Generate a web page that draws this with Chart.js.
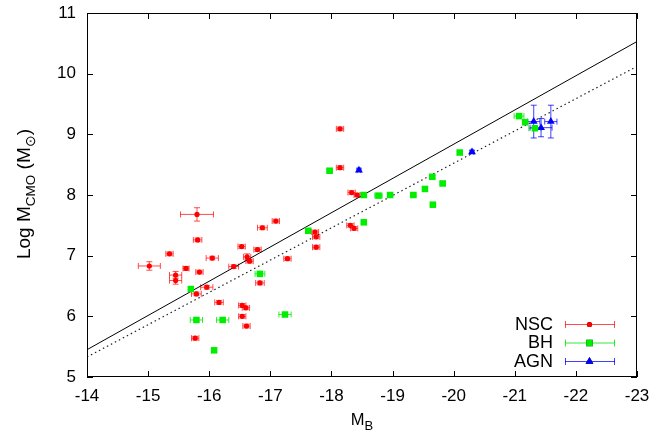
<!DOCTYPE html>
<html>
<head>
<meta charset="utf-8">
<script src="https://cdn.jsdelivr.net/npm/chart.js@4"></script>
<style>
  html, body { margin: 0; padding: 0; background: #fff; }
</style>
</head>
<body>
<canvas id="myChart" width="671" height="435"></canvas>
<script>
// NSC points
var nscX = [-18.14, -18.14, -18.33, -18.42, -15.80, -17.09, -16.87, -15.81, -16.53, -16.79, -15.35, -15.02, -16.05, -16.62, -16.66, -17.28, -16.40, -15.62, -15.84, -15.45, -15.45, -15.96, -15.79, -16.83, -16.16, -16.54, -16.60, -16.54, -16.61, -15.77, -17.73, -17.75, -17.75, -18.31, -18.37];
var nscY = [9.09, 8.45, 8.04, 8.00, 7.68, 7.57, 7.46, 7.26, 7.15, 7.10, 7.03, 6.83, 6.96, 6.98, 6.91, 6.95, 6.82, 6.79, 6.73, 6.68, 6.59, 6.48, 6.37, 6.55, 6.23, 6.18, 6.14, 6.00, 5.84, 5.64, 7.39, 7.31, 7.14, 7.50, 7.45];
var nscXerr = [0.06, 0.06, 0.06, 0.05, 0.27, 0.06, 0.08, 0.07, 0.06, 0.06, 0.06, 0.18, 0.10, 0.06, 0.06, 0.06, 0.08, 0.05, 0.06, 0.10, 0.10, 0.10, 0.08, 0.07, 0.07, 0.06, 0.06, 0.06, 0.06, 0.06, 0.06, 0.06, 0.06, 0.06, 0.06];
var nscYerr = [0.03, 0.03, 0.03, 0.03, 0.11, 0.03, 0.03, 0.03, 0.03, 0.03, 0.03, 0.07, 0.03, 0.05, 0.03, 0.03, 0.03, 0.03, 0.03, 0.06, 0.06, 0.03, 0.03, 0.03, 0.03, 0.03, 0.03, 0.03, 0.03, 0.03, 0.03, 0.03, 0.03, 0.03, 0.03];

// BH points
var bhX = [-21.07, -21.17, -21.33, -20.10, -17.97, -19.65, -19.82, -19.53, -18.53, -18.77, -18.96, -19.34, -19.66, -18.53, -17.62, -16.83, -15.70, -17.24, -15.79, -16.22, -16.08];
var bhY = [9.30, 9.20, 9.10, 8.70, 8.40, 8.30, 8.19, 8.10, 8.00, 7.99, 8.00, 8.00, 7.84, 7.55, 7.41, 6.70, 6.45, 6.03, 5.94, 5.94, 5.44];
var bhXerr = [0.08, 0.04, 0.10, 0.04, 0.04, 0.04, 0.04, 0.04, 0.04, 0.06, 0.04, 0.04, 0.04, 0.04, 0.04, 0.08, 0.04, 0.10, 0.10, 0.10, 0.04];
var bhYerr = [0.02, 0.02, 0.02, 0.02, 0.02, 0.02, 0.02, 0.02, 0.02, 0.02, 0.02, 0.02, 0.02, 0.02, 0.02, 0.02, 0.02, 0.02, 0.02, 0.02, 0.02];

// AGN points
var agnX = [-21.31, -21.43, -21.59, -20.30, -18.45];
var agnY = [9.21, 9.11, 9.21, 8.71, 8.41];
var agnXerr = [0.10, 0.18, 0.10, 0.03, 0.03];
var agnYerr = [0.27, 0.15, 0.27, 0.02, 0.02];

// fit lines
var lineX = [-14, -23];
var solidY = [5.45, 10.53];
var dottedY = [5.33, 10.12];

var legendNames = ["NSC", "BH", "AGN"];

function toPoints(xs, ys) {
    var pts = [];
    for (var i = 0; i < xs.length; i++) {
        pts.push({x: xs[i], y: ys[i]});
    }
    return pts;
}

var FONT = '"Liberation Sans", Arial, sans-serif';

// error bars with caps, drawn under the markers
var errorBars = {
    id: 'errorBars',
    beforeDatasetsDraw: function (chart) {
        var ctx = chart.ctx;
        var xs = chart.scales.x, ys = chart.scales.y;
        ctx.save();
        chart.data.datasets.forEach(function (ds) {
            if (!ds.xerr) return;
            ctx.strokeStyle = ds.barColor;
            ctx.lineWidth = 1;
            ds.data.forEach(function (p, i) {
                var px = xs.getPixelForValue(p.x), py = ys.getPixelForValue(p.y);
                var x1 = xs.getPixelForValue(p.x - ds.xerr[i]);
                var x2 = xs.getPixelForValue(p.x + ds.xerr[i]);
                var y1 = ys.getPixelForValue(p.y - ds.yerr[i]);
                var y2 = ys.getPixelForValue(p.y + ds.yerr[i]);
                var c = 3;
                ctx.beginPath();
                ctx.moveTo(x1, py); ctx.lineTo(x2, py);
                ctx.moveTo(x1, py - c); ctx.lineTo(x1, py + c);
                ctx.moveTo(x2, py - c); ctx.lineTo(x2, py + c);
                ctx.moveTo(px, y1); ctx.lineTo(px, y2);
                ctx.moveTo(px - c, y1); ctx.lineTo(px + c, y1);
                ctx.moveTo(px - c, y2); ctx.lineTo(px + c, y2);
                ctx.stroke();
            });
        });
        ctx.restore();
    }
};

// frame, inward ticks on four sides, axis titles and legend
var frame = {
    id: 'frame',
    afterDraw: function (chart) {
        var ctx = chart.ctx;
        var a = chart.chartArea;
        var xs = chart.scales.x, ys = chart.scales.y;
        ctx.save();
        ctx.strokeStyle = '#000';
        ctx.lineWidth = 1;
        ctx.strokeRect(a.left + 0.5, a.top + 0.5, a.right - a.left - 1, a.bottom - a.top - 1);
        var t = 6;
        ctx.beginPath();
        xs.ticks.forEach(function (tk) {
            var px = Math.round(xs.getPixelForValue(tk.value)) + 0.5;
            ctx.moveTo(px, a.bottom); ctx.lineTo(px, a.bottom - t);
            ctx.moveTo(px, a.top); ctx.lineTo(px, a.top + t);
        });
        ys.ticks.forEach(function (tk) {
            var py = Math.round(ys.getPixelForValue(tk.value)) + 0.5;
            ctx.moveTo(a.left, py); ctx.lineTo(a.left + t, py);
            ctx.moveTo(a.right, py); ctx.lineTo(a.right - t, py);
        });
        ctx.stroke();

        // x title: M_B
        ctx.fillStyle = '#000';
        ctx.textBaseline = 'alphabetic';
        var cx = (a.left + a.right) / 2;
        ctx.font = '16.5px ' + FONT;
        var wM = ctx.measureText('M').width;
        ctx.font = '13px ' + FONT;
        var wB = ctx.measureText('B').width;
        var sx = cx - (wM + wB) / 2;
        ctx.font = '16.5px ' + FONT;
        ctx.textAlign = 'left';
        ctx.fillText('M', sx, 425);
        ctx.font = '13px ' + FONT;
        ctx.fillText('B', sx + wM, 430);

        // y title: Log M_CMO (M_sun)
        var parts = [
            ['Log M', 19, 0], ['CMO', 13.5, 5], [' (M', 19, 0], ['\u2299', 13.5, 5], [')', 19, 0]
        ];
        var total = 0;
        parts.forEach(function (p) {
            ctx.font = p[1] + 'px ' + FONT;
            total += ctx.measureText(p[0]).width;
        });
        ctx.translate(29.5, 194);
        ctx.rotate(-Math.PI / 2);
        var ox = -total / 2;
        parts.forEach(function (p) {
            ctx.font = p[1] + 'px ' + FONT;
            ctx.fillText(p[0], ox, p[2]);
            ox += ctx.measureText(p[0]).width;
        });
        ctx.setTransform(1, 0, 0, 1, 0, 0);

        // legend
        ctx.font = '18px ' + FONT;
        ctx.textAlign = 'right';
        ctx.textBaseline = 'middle';
        for (var i = 0; i < 3; i++) {
            var ds = chart.data.datasets[i];
            var ly = 324 + i * 18.5;
            ctx.fillStyle = '#000';
            ctx.fillText(legendNames[i], 553, ly + 1);
            ctx.strokeStyle = ds.barColor;
            ctx.lineWidth = 1;
            ctx.beginPath();
            ctx.moveTo(565, ly + 0.5); ctx.lineTo(615, ly + 0.5);
            ctx.moveTo(565.5, ly - 3); ctx.lineTo(565.5, ly + 4);
            ctx.moveTo(614.5, ly - 3); ctx.lineTo(614.5, ly + 4);
            ctx.stroke();
            Chart.helpers.drawPoint(ctx, {
                pointStyle: ds.pointStyle, radius: ds.pointRadius, rotation: 0, borderWidth: 0
            }, 589.5, ly + 0.5);
            ctx.fillStyle = ds.backgroundColor;
            ctx.fill();
        }
        ctx.restore();
    }
};

var ctx = document.getElementById('myChart').getContext('2d');
var myChart = new Chart(ctx, {
    type: 'scatter',
    data: {
        datasets: [{
            label: 'NSC',
            data: toPoints(nscX, nscY),
            xerr: nscXerr, yerr: nscYerr,
            barColor: 'rgba(255,0,0,0.7)',
            backgroundColor: '#ff0000',
            borderWidth: 0,
            pointStyle: 'circle',
            pointRadius: 2.6
        }, {
            label: 'BH',
            data: toPoints(bhX, bhY),
            xerr: bhXerr, yerr: bhYerr,
            barColor: 'rgba(0,230,0,0.8)',
            backgroundColor: '#00ee00',
            borderWidth: 0,
            pointStyle: 'rect',
            pointRadius: 4.6
        }, {
            label: 'AGN',
            data: toPoints(agnX, agnY),
            xerr: agnXerr, yerr: agnYerr,
            barColor: 'rgba(0,0,255,0.75)',
            backgroundColor: '#0000ff',
            borderWidth: 0,
            pointStyle: 'triangle',
            pointRadius: 4.5
        }, {
            type: 'line',
            label: 'fit',
            data: toPoints(lineX, solidY),
            borderColor: '#000',
            borderWidth: 1,
            pointRadius: 0,
            fill: false
        }, {
            type: 'line',
            label: 'fit2',
            data: toPoints(lineX, dottedY),
            borderColor: '#222',
            borderWidth: 1.2,
            borderDash: [1.5, 3],
            pointRadius: 0,
            fill: false
        }]
    },
    options: {
        responsive: false,
        animation: false,
        devicePixelRatio: 1,
        layout: { padding: { left: 0, right: 34, top: 13, bottom: 0 } },
        plugins: {
            legend: { display: false },
            tooltip: { enabled: false }
        },
        scales: {
            x: {
                type: 'linear',
                min: -23, max: -14,
                reverse: true,
                grid: { display: false, drawTicks: false },
                border: { display: false },
                ticks: { stepSize: 1, padding: 9, maxRotation: 0, color: '#000', font: { family: FONT, size: 17 } },
                afterFit: function (scale) {
                    scale.height = 58;
                    scale.paddingLeft = 0;
                    scale.paddingRight = 0;
                }
            },
            y: {
                type: 'linear',
                min: 5, max: 11,
                grid: { display: false, drawTicks: false },
                border: { display: false },
                ticks: { stepSize: 1, padding: 11, color: '#000', font: { family: FONT, size: 17 } },
                afterFit: function (scale) {
                    scale.width = 87;
                    scale.paddingTop = 0;
                    scale.paddingBottom = 0;
                }
            }
        }
    },
    plugins: [errorBars, frame]
});
</script>
</body>
</html>
